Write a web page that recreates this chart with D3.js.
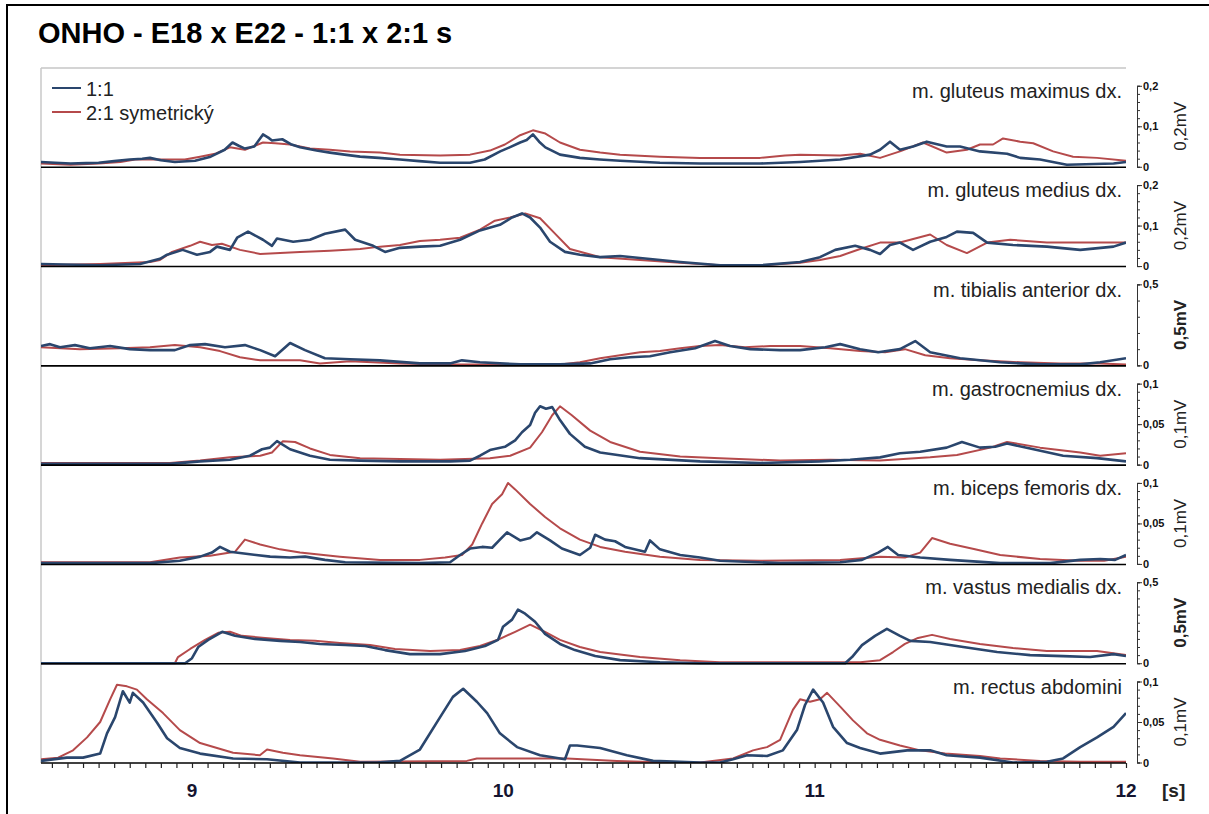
<!DOCTYPE html>
<html>
<head>
<meta charset="utf-8">
<script src="https://cdn.jsdelivr.net/npm/d3@7"></script>
<style>
  body { margin: 0; background: #fff; }
  text { font-family: "Liberation Sans", Arial, sans-serif; }
</style>
</head>
<body>
<svg id="chart" width="1209" height="814"></svg>
<script>
// ---- data: [time in s, amplitude in mV] ----
const muscles = ["m. gluteus maximus dx.", "m. gluteus medius dx.", "m. tibialis anterior dx.",
    "m. gastrocnemius dx.", "m. biceps femoris dx.", "m. vastus medialis dx.", "m. rectus abdomini"];
const scaleMax = [0.2, 0.2, 0.5, 0.1, 0.1, 0.5, 0.1];
const minorStep = [0.02, 0.02, 0.1, 0.01, 0.01, 0.05, 0.01];
const unitLabels = ["0,2mV", "0,2mV", "0,5mV", "0,1mV", "0,1mV", "0,5mV", "0,1mV"];
const seriesNames = ["1:1", "2:1 symetrický"];
const xLabels = [9, 10, 11, 12];

const glutMax11 = [[8.515,0.012],[8.56,0.010],[8.61,0.008],[8.66,0.009],[8.70,0.010],[8.75,0.014],[8.80,0.018],[8.84,0.020],[8.865,0.022],[8.90,0.016],[8.945,0.012],[9.01,0.015],[9.06,0.025],[9.105,0.042],[9.13,0.060],[9.15,0.052],[9.17,0.045],[9.20,0.050],[9.228,0.080],[9.245,0.072],[9.257,0.065],[9.29,0.068],[9.32,0.055],[9.347,0.048],[9.40,0.040],[9.443,0.035],[9.49,0.030],[9.54,0.025],[9.60,0.022],[9.668,0.018],[9.73,0.014],[9.797,0.010],[9.893,0.010],[9.94,0.018],[9.99,0.038],[10.02,0.048],[10.054,0.060],[10.075,0.066],[10.095,0.080],[10.115,0.062],[10.135,0.048],[10.182,0.030],[10.246,0.022],[10.31,0.018],[10.375,0.015],[10.503,0.010],[10.632,0.008],[10.825,0.008],[10.953,0.012],[11.082,0.018],[11.178,0.030],[11.21,0.042],[11.242,0.062],[11.274,0.042],[11.316,0.050],[11.36,0.062],[11.424,0.050],[11.467,0.050],[11.531,0.038],[11.618,0.032],[11.66,0.022],[11.724,0.018],[11.81,0.005],[11.96,0.008],[12.0,0.012]];
const glutMax21 = [[8.515,0.008],[8.61,0.005],[8.70,0.008],[8.77,0.012],[8.817,0.018],[8.897,0.018],[8.977,0.018],[9.026,0.025],[9.074,0.032],[9.122,0.048],[9.17,0.042],[9.228,0.060],[9.267,0.058],[9.315,0.055],[9.379,0.045],[9.443,0.042],[9.508,0.038],[9.604,0.035],[9.668,0.030],[9.797,0.028],[9.893,0.030],[9.957,0.040],[10.005,0.055],[10.054,0.078],[10.095,0.090],[10.135,0.082],[10.182,0.060],[10.246,0.042],[10.311,0.035],[10.375,0.030],[10.503,0.025],[10.632,0.022],[10.825,0.022],[10.905,0.028],[10.953,0.030],[11.082,0.028],[11.146,0.032],[11.21,0.022],[11.274,0.038],[11.348,0.060],[11.424,0.035],[11.489,0.042],[11.531,0.055],[11.573,0.055],[11.605,0.070],[11.66,0.062],[11.702,0.058],[11.766,0.038],[11.83,0.025],[11.907,0.022],[12.0,0.015]];

const glutMed11 = [[8.515,0.005],[8.705,0.002],[8.833,0.005],[8.897,0.018],[8.92,0.028],[8.97,0.040],[9.016,0.028],[9.058,0.035],[9.08,0.048],[9.122,0.040],[9.145,0.070],[9.18,0.085],[9.228,0.065],[9.257,0.050],[9.273,0.068],[9.325,0.060],[9.379,0.065],[9.427,0.080],[9.492,0.090],[9.524,0.065],[9.582,0.050],[9.62,0.035],[9.668,0.045],[9.732,0.048],[9.797,0.050],[9.861,0.065],[9.925,0.088],[9.989,0.102],[10.028,0.120],[10.06,0.130],[10.086,0.120],[10.118,0.095],[10.15,0.060],[10.198,0.035],[10.246,0.028],[10.311,0.022],[10.375,0.025],[10.439,0.020],[10.568,0.010],[10.696,0.002],[10.825,0.002],[10.953,0.010],[11.017,0.022],[11.066,0.040],[11.13,0.050],[11.178,0.040],[11.21,0.030],[11.242,0.052],[11.274,0.058],[11.316,0.040],[11.371,0.060],[11.424,0.072],[11.457,0.085],[11.509,0.082],[11.554,0.058],[11.637,0.052],[11.746,0.048],[11.853,0.040],[11.96,0.048],[12.0,0.058]];
const glutMed21 = [[8.515,0.002],[8.705,0.005],[8.865,0.010],[8.897,0.015],[8.936,0.035],[8.994,0.050],[9.026,0.060],[9.064,0.052],[9.096,0.055],[9.154,0.040],[9.219,0.030],[9.283,0.032],[9.347,0.035],[9.443,0.038],[9.54,0.042],[9.604,0.048],[9.668,0.052],[9.732,0.062],[9.797,0.065],[9.861,0.070],[9.925,0.090],[9.973,0.112],[10.022,0.120],[10.07,0.130],[10.118,0.118],[10.166,0.080],[10.214,0.042],[10.311,0.022],[10.439,0.015],[10.568,0.008],[10.696,0.002],[10.825,0.002],[10.953,0.008],[11.017,0.015],[11.082,0.025],[11.146,0.042],[11.21,0.058],[11.274,0.058],[11.371,0.078],[11.424,0.052],[11.489,0.032],[11.554,0.058],[11.628,0.065],[11.746,0.058],[11.853,0.058],[12.0,0.058]];

const tibAnt11 = [[8.515,0.119],[8.544,0.131],[8.576,0.112],[8.624,0.125],[8.672,0.106],[8.737,0.119],[8.80,0.100],[8.865,0.094],[8.945,0.094],[8.994,0.125],[9.042,0.131],[9.106,0.112],[9.17,0.125],[9.219,0.094],[9.267,0.056],[9.315,0.138],[9.363,0.094],[9.427,0.044],[9.508,0.038],[9.604,0.031],[9.732,0.012],[9.829,0.012],[9.867,0.031],[9.925,0.019],[10.054,0.006],[10.182,0.006],[10.279,0.012],[10.343,0.038],[10.407,0.050],[10.471,0.056],[10.536,0.081],[10.616,0.106],[10.68,0.150],[10.728,0.119],[10.793,0.100],[10.889,0.094],[10.953,0.094],[11.034,0.112],[11.082,0.131],[11.146,0.100],[11.204,0.081],[11.274,0.100],[11.323,0.150],[11.371,0.081],[11.467,0.044],[11.596,0.019],[11.724,0.006],[11.853,0.006],[11.917,0.019],[12.0,0.044]];
const tibAnt21 = [[8.515,0.112],[8.64,0.100],[8.769,0.106],[8.865,0.112],[8.945,0.125],[9.026,0.112],[9.09,0.088],[9.154,0.050],[9.219,0.031],[9.347,0.031],[9.411,0.012],[9.508,0.025],[9.668,0.012],[9.797,0.006],[10.182,0.006],[10.246,0.019],[10.311,0.044],[10.375,0.062],[10.439,0.081],[10.503,0.088],[10.568,0.106],[10.632,0.119],[10.696,0.125],[10.776,0.112],[10.857,0.119],[10.953,0.119],[11.05,0.106],[11.146,0.088],[11.226,0.081],[11.29,0.100],[11.355,0.062],[11.435,0.044],[11.531,0.031],[11.66,0.019],[11.788,0.012],[11.917,0.012],[12.0,0.006]];

const gastro11 = [[8.515,0.001],[8.929,0.001],[9.026,0.004],[9.122,0.006],[9.186,0.011],[9.225,0.019],[9.25,0.021],[9.273,0.029],[9.315,0.019],[9.379,0.011],[9.443,0.006],[9.54,0.005],[9.668,0.004],[9.829,0.004],[9.893,0.005],[9.925,0.011],[9.957,0.018],[10.005,0.022],[10.038,0.030],[10.06,0.040],[10.086,0.049],[10.102,0.064],[10.118,0.072],[10.137,0.069],[10.157,0.071],[10.182,0.055],[10.214,0.038],[10.262,0.022],[10.311,0.015],[10.439,0.008],[10.632,0.004],[10.825,0.002],[11.017,0.004],[11.114,0.006],[11.21,0.009],[11.274,0.014],[11.339,0.016],[11.424,0.021],[11.473,0.028],[11.531,0.021],[11.58,0.022],[11.618,0.026],[11.692,0.020],[11.798,0.011],[11.907,0.008],[12.0,0.004]];
const gastro21 = [[8.515,0.002],[8.929,0.002],[9.026,0.005],[9.122,0.009],[9.219,0.011],[9.257,0.015],[9.292,0.029],[9.331,0.028],[9.379,0.020],[9.443,0.012],[9.54,0.008],[9.797,0.006],[9.957,0.008],[10.022,0.011],[10.086,0.021],[10.124,0.040],[10.157,0.061],[10.182,0.072],[10.22,0.061],[10.279,0.042],[10.343,0.028],[10.439,0.016],[10.568,0.010],[10.696,0.008],[10.889,0.005],[11.05,0.006],[11.21,0.005],[11.371,0.009],[11.457,0.012],[11.564,0.021],[11.618,0.028],[11.724,0.021],[11.853,0.015],[11.917,0.011],[12.0,0.014]];

const biceps11 = [[8.515,0.001],[8.865,0.001],[8.961,0.004],[9.026,0.009],[9.064,0.014],[9.09,0.021],[9.122,0.015],[9.186,0.012],[9.251,0.009],[9.315,0.008],[9.363,0.009],[9.427,0.005],[9.492,0.002],[9.732,0.001],[9.829,0.002],[9.861,0.011],[9.893,0.019],[9.932,0.021],[9.964,0.020],[9.989,0.030],[10.012,0.039],[10.054,0.029],[10.086,0.032],[10.108,0.039],[10.15,0.029],[10.188,0.019],[10.246,0.011],[10.279,0.020],[10.295,0.036],[10.327,0.030],[10.359,0.028],[10.391,0.021],[10.455,0.015],[10.471,0.029],[10.503,0.018],[10.568,0.011],[10.632,0.008],[10.696,0.004],[10.889,0.001],[11.082,0.002],[11.152,0.005],[11.204,0.014],[11.235,0.021],[11.268,0.011],[11.339,0.008],[11.435,0.005],[11.596,0.001],[11.756,0.001],[11.853,0.005],[11.917,0.006],[11.965,0.005],[12.0,0.011]];
const biceps21 = [[8.515,0.002],[8.865,0.002],[8.961,0.008],[9.058,0.010],[9.138,0.015],[9.17,0.030],[9.219,0.024],[9.283,0.018],[9.347,0.014],[9.475,0.009],[9.604,0.005],[9.732,0.005],[9.813,0.008],[9.867,0.011],[9.90,0.024],[9.932,0.050],[9.964,0.074],[9.996,0.086],[10.015,0.100],[10.038,0.092],[10.086,0.074],[10.134,0.058],[10.182,0.044],[10.246,0.030],[10.311,0.021],[10.391,0.015],[10.503,0.009],[10.632,0.005],[10.825,0.004],[11.082,0.005],[11.21,0.009],[11.29,0.008],[11.339,0.014],[11.377,0.032],[11.435,0.025],[11.515,0.018],[11.596,0.011],[11.724,0.006],[11.853,0.004],[11.93,0.004],[12.0,0.009]];

const vastus11 = [[8.515,0],[8.978,0],[9.0,0.031],[9.02,0.100],[9.052,0.144],[9.097,0.194],[9.138,0.169],[9.202,0.150],[9.283,0.138],[9.347,0.131],[9.411,0.119],[9.492,0.112],[9.556,0.106],[9.62,0.081],[9.70,0.056],[9.797,0.056],[9.877,0.075],[9.941,0.106],[9.983,0.144],[9.999,0.225],[10.028,0.269],[10.047,0.331],[10.07,0.306],[10.102,0.256],[10.134,0.181],[10.182,0.119],[10.23,0.081],[10.295,0.044],[10.375,0.019],[10.503,0.006],[10.632,0],[11.098,0],[11.12,0.038],[11.152,0.112],[11.194,0.169],[11.232,0.212],[11.274,0.169],[11.307,0.138],[11.371,0.131],[11.477,0.100],[11.586,0.069],[11.692,0.050],[11.798,0.044],[11.885,0.038],[11.96,0.056],[12.0,0.044]];
const vastus21 = [[8.515,0],[8.945,0],[8.955,0.038],[8.994,0.088],[9.042,0.144],[9.084,0.188],[9.122,0.194],[9.16,0.169],[9.235,0.156],[9.315,0.144],[9.395,0.138],[9.475,0.125],[9.572,0.112],[9.652,0.088],[9.765,0.075],[9.861,0.081],[9.925,0.106],[9.989,0.150],[10.038,0.194],[10.086,0.238],[10.134,0.194],[10.182,0.144],[10.246,0.100],[10.311,0.069],[10.439,0.038],[10.568,0.019],[10.696,0.006],[11.146,0.006],[11.21,0.019],[11.252,0.069],[11.29,0.119],[11.332,0.156],[11.377,0.175],[11.435,0.150],[11.531,0.119],[11.637,0.094],[11.746,0.075],[11.907,0.075],[12.0,0.050]];

const rectus11 = [[8.515,0.002],[8.598,0.006],[8.65,0.006],[8.705,0.011],[8.727,0.036],[8.753,0.056],[8.778,0.088],[8.80,0.074],[8.81,0.086],[8.843,0.074],[8.888,0.049],[8.92,0.030],[8.961,0.018],[9.026,0.011],[9.132,0.005],[9.241,0.004],[9.347,0],[9.594,0],[9.668,0.002],[9.732,0.016],[9.797,0.056],[9.838,0.081],[9.871,0.091],[9.915,0.075],[9.948,0.061],[9.989,0.036],[10.044,0.019],[10.118,0.009],[10.198,0.004],[10.214,0.021],[10.237,0.021],[10.311,0.018],[10.397,0.009],[10.481,0.002],[10.632,0],[10.696,0],[10.738,0.004],[10.783,0.009],[10.847,0.008],[10.898,0.015],[10.943,0.040],[10.969,0.071],[10.995,0.090],[11.027,0.074],[11.059,0.044],[11.104,0.024],[11.146,0.018],[11.21,0.011],[11.297,0.015],[11.371,0.015],[11.424,0.009],[11.531,0.006],[11.637,0],[11.746,0.001],[11.798,0.005],[11.853,0.019],[11.907,0.031],[11.96,0.044],[12.0,0.061]];
const rectus21 = [[8.515,0.004],[8.57,0.006],[8.618,0.015],[8.663,0.031],[8.705,0.050],[8.737,0.078],[8.759,0.096],[8.791,0.094],[8.823,0.090],[8.855,0.078],[8.907,0.061],[8.961,0.040],[9.026,0.024],[9.132,0.012],[9.218,0.009],[9.241,0.016],[9.292,0.012],[9.347,0.009],[9.453,0.005],[9.54,0.001],[9.883,0.002],[9.915,0.005],[10.205,0.005],[10.365,0.002],[10.526,0],[10.632,0],[10.738,0.005],[10.802,0.015],[10.847,0.019],[10.889,0.028],[10.93,0.065],[10.953,0.078],[10.985,0.075],[11.017,0.078],[11.04,0.086],[11.082,0.069],[11.123,0.052],[11.168,0.036],[11.21,0.028],[11.274,0.021],[11.339,0.015],[11.419,0.011],[11.531,0.008],[11.596,0.005],[11.724,0.002],[11.853,0.001],[12.0,0.001]];

const data11 = [glutMax11, glutMed11, tibAnt11, gastro11, biceps11, vastus11, rectus11];
const data21 = [glutMax21, glutMed21, tibAnt21, gastro21, biceps21, vastus21, rectus21];

// ---- layout ----
const svg = d3.select("#chart");
const plotLeft = 41, plotRight = 1126, plotTop = 68, plotBottom = 763;
const panelH = (plotBottom - plotTop) / muscles.length;
const blue = "#2a466d", red = "#b54a4b";
const comma = v => String(+v.toFixed(3)).replace(".", ",");

// outer frame
svg.append("rect").attr("x", 7).attr("y", 5).attr("width", 1230).attr("height", 840)
    .attr("fill", "none").attr("stroke", "#000").attr("stroke-width", 2);

svg.append("text").attr("x", 38).attr("y", 43)
    .style("font-size", "29px").style("font-weight", "bold").attr("fill", "#000")
    .text("ONHO - E18 x E22 - 1:1 x 2:1 s");

const x = d3.scaleLinear().domain([8.515, 12]).range([plotLeft, plotRight]);

svg.append("defs").append("clipPath").attr("id", "plotclip")
    .append("rect").attr("x", plotLeft).attr("y", plotTop)
    .attr("width", plotRight - plotLeft).attr("height", plotBottom - plotTop);

// plot frame lines (light grey top + left)
svg.append("line").attr("x1", plotLeft).attr("x2", plotRight).attr("y1", plotTop).attr("y2", plotTop)
    .attr("stroke", "#aaa").attr("stroke-width", 1.2);
svg.append("line").attr("x1", plotLeft).attr("x2", plotLeft).attr("y1", plotTop).attr("y2", plotBottom)
    .attr("stroke", "#c8c8c8").attr("stroke-width", 1.5);

muscles.forEach(function (name, i) {
    let base = plotTop + (i + 1) * panelH;
    let y = d3.scaleLinear().domain([0, scaleMax[i]]).range([base - 0.5, base - 81.5]);
    let g = svg.append("g");

    let line = d3.line().x(d => x(d[0])).y(d => y(d[1]));
    g.append("path").datum(data21[i]).attr("d", line).attr("clip-path", "url(#plotclip)")
        .attr("fill", "none").attr("stroke", red).attr("stroke-width", 2).attr("stroke-linejoin", "round");
    g.append("path").datum(data11[i]).attr("d", line).attr("clip-path", "url(#plotclip)")
        .attr("fill", "none").attr("stroke", blue).attr("stroke-width", 2.6).attr("stroke-linejoin", "round");

    // panel baseline
    g.append("line").attr("x1", plotLeft).attr("x2", plotRight).attr("y1", base).attr("y2", base)
        .attr("stroke", "#000").attr("stroke-width", 1.6);

    g.append("text").attr("x", 1122).attr("y", base - panelH + 30)
        .attr("text-anchor", "end").style("font-size", "20px").attr("fill", "#222").text(name);

    // right amplitude axis
    let minor = d3.range(0, scaleMax[i] + 1e-9, minorStep[i]);
    let major = scaleMax[i] === 0.5 ? [0, 0.5] : [0, scaleMax[i] / 2, scaleMax[i]];
    let ax = g.append("g").attr("transform", "translate(1137,0)")
        .call(d3.axisRight(y).tickValues(minor).tickSize(3).tickFormat(""));
    ax.select(".domain").attr("stroke", "#333");
    ax.selectAll(".tick line").attr("stroke", "#333");
    let axMaj = g.append("g").attr("transform", "translate(1137,0)")
        .call(d3.axisRight(y).tickValues(major).tickSize(5).tickPadding(1).tickFormat(comma));
    axMaj.select(".domain").remove();
    axMaj.selectAll(".tick line").attr("stroke", "#333");
    axMaj.selectAll(".tick text").style("font-size", "11px").style("font-weight", "bold")
        .style("font-family", "'Liberation Sans', Arial, sans-serif").attr("fill", "#111");

    g.append("text")
        .attr("transform", `translate(1186,${(y(0) + y(scaleMax[i])) / 2}) rotate(-90)`)
        .attr("text-anchor", "middle").style("font-size", "17px")
        .style("font-weight", scaleMax[i] === 0.5 ? "bold" : "normal")
        .attr("fill", "#222").text(unitLabels[i]);
});

// time axis
let xTicks = d3.range(8.55, 12.001, 0.05);
let xAxis = svg.append("g").attr("transform", `translate(0,${plotBottom})`)
    .call(d3.axisBottom(x).tickValues(xTicks).tickSize(5).tickFormat(""));
xAxis.select(".domain").remove();
xAxis.selectAll(".tick line").attr("stroke", "#222").attr("stroke-width", 1.2);

svg.selectAll(".xlab").data(xLabels).enter().append("text")
    .attr("class", "xlab").attr("x", d => x(d)).attr("y", 797)
    .attr("text-anchor", "middle").style("font-size", "19px").style("font-weight", "bold")
    .attr("fill", "#151530").text(d => d);
svg.append("text").attr("x", 1162).attr("y", 797).style("font-size", "19px")
    .style("font-weight", "bold").attr("fill", "#222").text("[s]");

// legend
const legend = svg.append("g");
[blue, red].forEach(function (c, k) {
    legend.append("line").attr("x1", 52).attr("x2", 81).attr("y1", 88 + k * 24).attr("y2", 88 + k * 24)
        .attr("stroke", c).attr("stroke-width", 2);
    legend.append("text").attr("x", 86).attr("y", 96 + k * 24).style("font-size", "20px")
        .attr("fill", "#222").text(seriesNames[k]);
});
</script>
</body>
</html>
